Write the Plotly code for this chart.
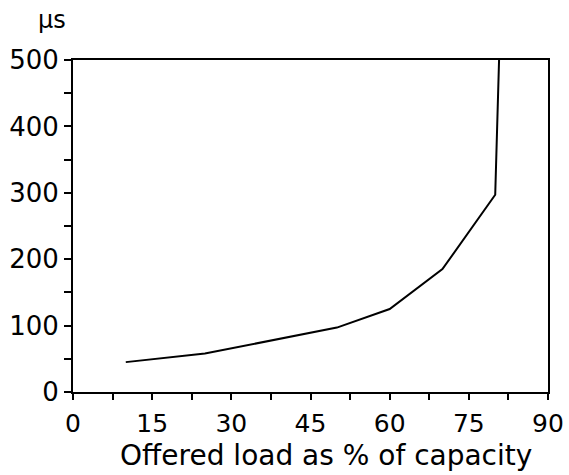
import plotly.graph_objects as go

load_pct = [10, 25, 50, 60, 70, 80, 80.8]
delay_us = [45, 58, 97, 125, 185, 297, 520]

x_tick_vals = [i * 7.5 for i in range(13)]
x_tick_text = ["0", "", "15", "", "30", "", "45", "", "60", "", "75", "", "90"]
y_tick_vals = [i * 50 for i in range(11)]
y_tick_text = ["0", "", "100", "", "200", "", "300", "", "400", "", "500"]

font_family = "DejaVu Sans, sans-serif"

fig = go.Figure()
fig.add_trace(go.Scatter(x=load_pct, y=delay_us, mode="lines",
                         line=dict(color="black", width=2), showlegend=False))

fig.update_layout(
    width=569, height=475,
    margin=dict(l=73, r=21, t=60, b=83),
    paper_bgcolor="white", plot_bgcolor="white",
    font=dict(family=font_family, size=26, color="black"),
    xaxis=dict(range=[0, 90], tickvals=x_tick_vals, ticktext=x_tick_text,
               ticks="outside", ticklen=6, tickwidth=2, tickcolor="black",
               showline=True, linecolor="black", linewidth=2, mirror=True,
               showgrid=False, zeroline=False, ticklabelstandoff=2,
               automargin=False, tickfont=dict(size=25)),
    yaxis=dict(range=[0, 500], tickvals=y_tick_vals, ticktext=y_tick_text,
               ticks="outside", ticklen=7, tickwidth=2, tickcolor="black",
               showline=True, linecolor="black", linewidth=2, mirror=True,
               showgrid=False, zeroline=False, automargin=False,
               tickfont=dict(size=26)),
    annotations=[
        dict(text="µs", xref="paper", yref="paper", x=-0.045, y=1.0,
             yshift=40, xanchor="center", yanchor="middle",
             showarrow=False, font=dict(size=24)),
        dict(text="Offered load as % of capacity", xref="paper", yref="paper",
             x=0.533, y=0, yshift=-82, xanchor="center", yanchor="bottom",
             showarrow=False, font=dict(size=28)),
    ],
)

fig.write_html("out.html")
